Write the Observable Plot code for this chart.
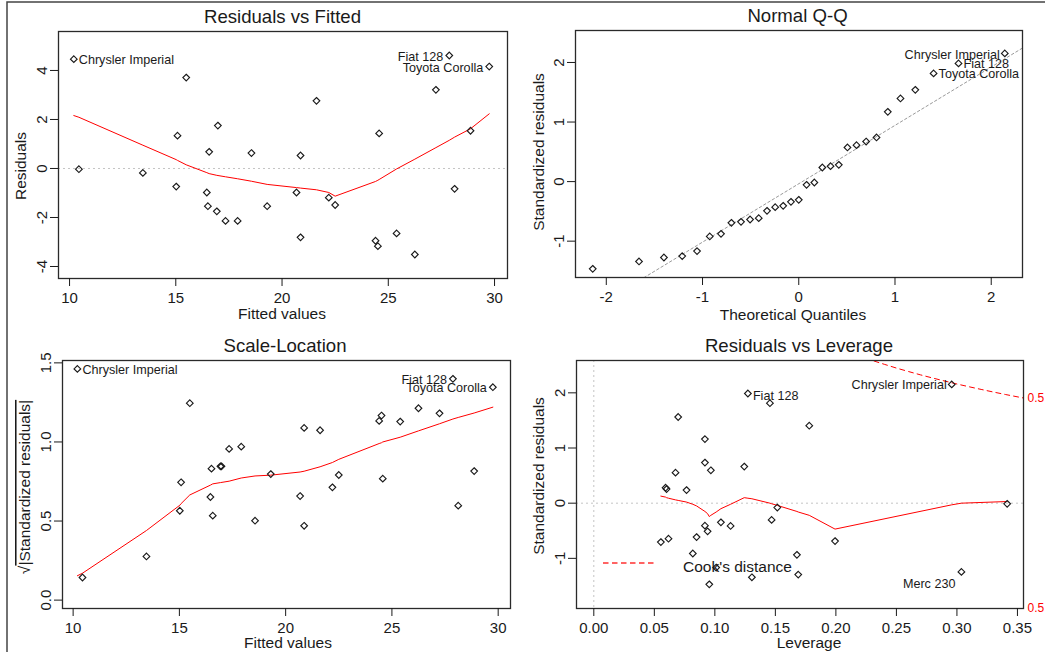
<!DOCTYPE html>
<html><head><meta charset="utf-8">
<script src="https://cdn.jsdelivr.net/npm/d3@7"></script>
<script src="https://cdn.jsdelivr.net/npm/@observablehq/plot@0.6"></script>
<style>
html,body{margin:0;padding:0;background:#fff;}
#wrap{position:relative;width:1045px;height:652px;overflow:hidden;background:#fff;font-family:"Liberation Sans",Arial,sans-serif;}
#wrap > div.p{position:absolute;}
#overlay{position:absolute;left:0;top:0;pointer-events:none;}
</style></head><body><div id="wrap"></div><script>
// ---------- data ----------
// Residuals vs Fitted / Scale-Location (sorted by fitted value)
const fitted = [10.20, 10.44, 13.45, 15.02, 15.08, 15.49, 16.46, 16.51, 16.57, 16.93, 16.98, 17.34, 17.91, 18.56, 19.30, 20.68, 20.87, 20.87, 21.62, 22.20, 22.50, 24.40, 24.51, 24.57, 25.39, 26.25, 27.24, 27.87, 28.12, 28.87, 29.75];
const residuals = [4.46, -0.03, -0.18, -0.74, 1.34, 3.71, -0.98, -1.54, 0.68, -1.75, 1.75, -2.14, -2.14, 0.63, -1.54, -0.98, 0.53, -2.81, 2.76, -1.19, -1.49, -2.95, -3.17, 1.43, -2.65, -3.51, 3.21, 4.61, -0.83, 1.54, 4.16];
const sqrtAbsStdResid = [1.462, 0.143, 0.276, 0.565, 0.745, 1.245, 0.652, 0.831, 0.534, 0.846, 0.846, 0.956, 0.970, 0.502, 0.797, 0.658, 0.470, 1.089, 1.074, 0.713, 0.791, 1.133, 1.167, 0.768, 1.129, 1.213, 1.181, 1.399, 0.597, 0.816, 1.346];
const fittedLabelsRight = [{i: 0, name: "Chrysler Imperial"}];
const fittedLabelsLeft = [{i: 27, name: "Fiat 128"}, {i: 30, name: "Toyota Corolla"}];

const lowessFittedX = [10.20, 10.44, 13.45, 15.02, 15.08, 15.49, 16.46, 16.57, 16.93, 17.34, 17.91, 18.56, 19.30, 20.68, 20.87, 21.62, 22.20, 22.50, 24.40, 24.51, 24.57, 25.39, 26.25, 27.24, 27.87, 28.12, 28.87, 29.75];
const lowessResidY = [2.16, 2.09, 0.95, 0.36, 0.33, 0.15, -0.17, -0.21, -0.28, -0.34, -0.42, -0.52, -0.65, -0.78, -0.80, -0.87, -0.98, -1.13, -0.53, -0.48, -0.45, -0.02, 0.38, 0.85, 1.15, 1.28, 1.62, 2.23];
const lowessScaleY = [0.154, 0.17, 0.44, 0.60, 0.61, 0.665, 0.727, 0.735, 0.743, 0.752, 0.772, 0.785, 0.79, 0.81, 0.815, 0.843, 0.87, 0.89, 0.99, 0.995, 1.0, 1.03, 1.07, 1.115, 1.145, 1.155, 1.183, 1.22];

// Normal Q-Q
const theoreticalQ = [-2.141, -1.660, -1.401, -1.211, -1.057, -0.925, -0.808, -0.700, -0.600, -0.506, -0.416, -0.330, -0.245, -0.162, -0.081, 0, 0.081, 0.162, 0.245, 0.330, 0.416, 0.506, 0.600, 0.700, 0.808, 0.925, 1.057, 1.211, 1.401, 1.660, 2.141];
const qqStdResid = [-1.464, -1.341, -1.274, -1.251, -1.167, -0.921, -0.877, -0.692, -0.675, -0.636, -0.614, -0.491, -0.429, -0.407, -0.340, -0.306, -0.054, -0.015, 0.237, 0.259, 0.282, 0.573, 0.612, 0.673, 0.741, 1.172, 1.396, 1.541, 1.816, 1.984, 2.152];
const qqLabelsLeft = [{i: 30, name: "Chrysler Imperial"}];
const qqLabelsRight = [{i: 29, name: "Fiat 128"}, {i: 28, name: "Toyota Corolla"}];
const qqLineIntercept = -0.036;
const qqLineSlope = 0.98;

// Residuals vs Leverage
const leverage = [0.0554, 0.0593, 0.0601, 0.0617, 0.0675, 0.0697, 0.0766, 0.0818, 0.0849, 0.0918, 0.0918, 0.0918, 0.0940, 0.0954, 0.0967, 0.1011, 0.1050, 0.1130, 0.1243, 0.1273, 0.1306, 0.1455, 0.1469, 0.1516, 0.1678, 0.1689, 0.1780, 0.1993, 0.2957, 0.3037, 0.3415];
const levStdResid = [-0.705, 0.280, 0.255, -0.644, 0.553, 1.562, 0.237, -0.912, -0.614, 1.161, 0.736, -0.407, -0.511, -1.471, 0.596, -1.167, -0.347, -0.413, 0.663, 1.988, -1.343, 1.812, -0.304, -0.079, -0.936, -1.295, 1.404, -0.687, 2.152, -1.246, -0.012];
const levLabelsRight = [{i: 19, name: "Fiat 128"}];
const levLabelsLeft = [{i: 28, name: "Chrysler Imperial"}];
const levLabelsBelow = [{i: 29, name: "Merc 230"}];
const lowessLevX = [0.0554, 0.0593, 0.0601, 0.0617, 0.0675, 0.0697, 0.0766, 0.0818, 0.0849, 0.0918, 0.0940, 0.0954, 0.0967, 0.1011, 0.1050, 0.1130, 0.1243, 0.1273, 0.1306, 0.1455, 0.1469, 0.1516, 0.1678, 0.1689, 0.1780, 0.1993, 0.2957, 0.3037, 0.3415];
const lowessLevY = [0.128, 0.11, 0.10, 0.09, 0.06, 0.05, 0.02, -0.02, -0.05, -0.15, -0.19, -0.243, -0.22, -0.16, -0.10, -0.02, 0.10, 0.09, 0.08, 0.00, -0.01, -0.04, -0.15, -0.16, -0.22, -0.47, -0.03, 0.00, 0.03];
const cookH = [0.2315, 0.24, 0.25, 0.26, 0.27, 0.28, 0.29, 0.30, 0.31, 0.32, 0.33, 0.34, 0.355];
const cookY = [2.577, 2.517, 2.449, 2.386, 2.325, 2.268, 2.213, 2.160, 2.110, 2.062, 2.015, 1.970, 1.906];
const cookLevel = "0.5";

// ---------- helpers ----------
const FONT = '"Liberation Sans", Arial, sans-serif';
const INK = "#1a1a1a";
const minusFmt = d => String(d);
const wrap = document.getElementById("wrap");

function panel({left, top, width, height, m, xDomain, yDomain, xTicks, yTicks, xFormat = minusFmt, yFormat = minusFmt, marks}) {
  const chart = Plot.plot({
    width, height,
    marginTop: m[0], marginRight: m[1], marginBottom: m[2], marginLeft: m[3],
    style: {fontFamily: FONT, fontSize: "15px", color: INK, background: "transparent", overflow: "visible"},
    x: {domain: xDomain, label: null},
    y: {domain: yDomain, label: null},
    marks: [
      ...marks,
      Plot.frame({stroke: "#2a2a2a", strokeWidth: 1.3}),
      Plot.axisX({ticks: xTicks, tickFormat: xFormat, tickSize: 8, tickPadding: 6, label: null}),
      Plot.axisY({ticks: yTicks, tickFormat: yFormat, tickRotate: -90, tickSize: 8, tickPadding: 4, label: null})
    ]
  });
  const d = document.createElement("div");
  d.className = "p";
  d.style.left = left + "px";
  d.style.top = top + "px";
  d.appendChild(chart);
  wrap.appendChild(d);
}

const dotOpts = {symbol: "diamond2", r: 3, stroke: INK, fill: "none", strokeWidth: 1.15};
const lblSize = 12.6;
const zeroRule = {stroke: "#c4c4c4", strokeDasharray: "2,3", strokeWidth: 1};

// ---------- Panel 1: Residuals vs Fitted ----------
const p1 = fitted.map((f, i) => ({x: f, y: residuals[i]}));
const p1low = lowessFittedX.map((x, i) => ({x, y: lowessResidY[i]}));
panel({
  left: 0, top: 0, width: 522, height: 326, m: [31, 15, 48, 58],
  xDomain: [9.48, 30.61], yDomain: [-4.49, 5.59],
  xTicks: [10, 15, 20, 25, 30], yTicks: [-4, -2, 0, 2, 4],
  marks: [
    Plot.ruleY([0], zeroRule),
    Plot.line(p1low, {x: "x", y: "y", stroke: "#ff0000", strokeWidth: 1}),
    Plot.dot(p1, {x: "x", y: "y", ...dotOpts}),
    Plot.text(fittedLabelsRight, {x: d => fitted[d.i], y: d => residuals[d.i], text: "name", textAnchor: "start", dx: 5, dy: 1, fontSize: lblSize, fill: INK}),
    Plot.text(fittedLabelsLeft, {x: d => fitted[d.i], y: d => residuals[d.i], text: "name", textAnchor: "end", dx: -6, dy: 1, fontSize: lblSize, fill: INK})
  ]
});

// ---------- Panel 2: Normal Q-Q ----------
const p2 = theoreticalQ.map((q, i) => ({x: q, y: qqStdResid[i]}));
const qqDom = [-2.32, 2.325];
const qqLine = qqDom.map(x => ({x, y: qqLineIntercept + qqLineSlope * x}));
panel({
  left: 522, top: 0, width: 523, height: 326, m: [30, 23, 49, 53],
  xDomain: qqDom, yDomain: [-1.61, 2.537],
  xTicks: [-2, -1, 0, 1, 2], yTicks: [-1, 0, 1, 2],
  marks: [
    Plot.line(qqLine, {x: "x", y: "y", stroke: "#9a9a9a", strokeDasharray: "2.5,2.5", strokeWidth: 1, clip: true}),
    Plot.dot(p2, {x: "x", y: "y", ...dotOpts}),
    Plot.text(qqLabelsLeft, {x: d => theoreticalQ[d.i], y: d => qqStdResid[d.i], text: "name", textAnchor: "end", dx: -5, dy: 2, fontSize: lblSize, fill: INK}),
    Plot.text(qqLabelsRight, {x: d => theoreticalQ[d.i], y: d => qqStdResid[d.i], text: "name", textAnchor: "start", dx: 5, dy: 1, fontSize: lblSize, fill: INK})
  ]
});

// ---------- Panel 3: Scale-Location ----------
const p3 = fitted.map((f, i) => ({x: f, y: sqrtAbsStdResid[i]}));
const p3low = lowessFittedX.map((x, i) => ({x, y: lowessScaleY[i]}));
panel({
  left: 0, top: 326, width: 522, height: 326, m: [34, 12, 44, 62],
  xDomain: [9.50, 30.58], yDomain: [-0.053, 1.515],
  xTicks: [10, 15, 20, 25, 30], yTicks: [0, 0.5, 1, 1.5], yFormat: d3.format(".1f"),
  marks: [
    Plot.line(p3low, {x: "x", y: "y", stroke: "#ff0000", strokeWidth: 1}),
    Plot.dot(p3, {x: "x", y: "y", ...dotOpts}),
    Plot.text(fittedLabelsRight, {x: d => fitted[d.i], y: d => sqrtAbsStdResid[d.i], text: "name", textAnchor: "start", dx: 5, dy: 1, fontSize: lblSize, fill: INK}),
    Plot.text(fittedLabelsLeft, {x: d => fitted[d.i], y: d => sqrtAbsStdResid[d.i], text: "name", textAnchor: "end", dx: -6, dy: 1, fontSize: lblSize, fill: INK})
  ]
});

// ---------- Panel 4: Residuals vs Leverage ----------
const p4 = leverage.map((h, i) => ({x: h, y: levStdResid[i]}));
const p4low = lowessLevX.map((x, i) => ({x, y: lowessLevY[i]}));
const cook = cookH.map((h, i) => ({x: h, y: cookY[i]}));
const cookEnd = cook[cook.length - 1];
const cookLabels = [{x: cookEnd.x, y: cookEnd.y}, {x: cookEnd.x, y: -cookEnd.y}];
panel({
  left: 522, top: 326, width: 523, height: 326, m: [34, 22, 44, 54],
  xDomain: [-0.0143, 0.355], yDomain: [-1.909, 2.586],
  xTicks: [0, 0.05, 0.1, 0.15, 0.2, 0.25, 0.3, 0.35], yTicks: [-1, 0, 1, 2], xFormat: d3.format(".2f"),
  marks: [
    Plot.ruleY([0], zeroRule),
    Plot.ruleX([0], zeroRule),
    Plot.line(cook, {x: "x", y: "y", stroke: "#ff0000", strokeDasharray: "5,4", strokeWidth: 1, clip: true}),
    Plot.line(p4low, {x: "x", y: "y", stroke: "#ff0000", strokeWidth: 1}),
    Plot.dot(p4, {x: "x", y: "y", ...dotOpts}),
    Plot.text(levLabelsRight, {x: d => leverage[d.i], y: d => levStdResid[d.i], text: "name", textAnchor: "start", dx: 5, dy: 2, fontSize: lblSize, fill: INK}),
    Plot.text(levLabelsLeft, {x: d => leverage[d.i], y: d => levStdResid[d.i], text: "name", textAnchor: "end", dx: -5, dy: 1, fontSize: lblSize, fill: INK}),
    Plot.text(levLabelsBelow, {x: d => leverage[d.i], y: d => levStdResid[d.i], text: "name", textAnchor: "end", dx: -6, dy: 12, fontSize: lblSize, fill: INK}),
    Plot.text(cookLabels, {x: "x", y: "y", text: () => cookLevel, textAnchor: "start", dx: 4, fontSize: 12, fill: "#ff0000"})
  ]
});

// ---------- titles, axis labels, legend, outer border ----------
const ov = d3.select(wrap).append("svg").attr("id", "overlay").attr("width", 1045).attr("height", 652)
  .style("font-family", FONT);
ov.append("path").attr("d", "M7,652V2H1045").attr("fill", "none").attr("stroke", "#444").attr("stroke-width", 1.5);
const titles = [
  {t: "Residuals vs Fitted", x: 282.5, y: 23},
  {t: "Normal Q-Q", x: 797.5, y: 22},
  {t: "Scale-Location", x: 285, y: 352},
  {t: "Residuals vs Leverage", x: 799, y: 352}
];
titles.forEach(d => ov.append("text").attr("x", d.x).attr("y", d.y).attr("text-anchor", "middle")
  .attr("font-size", 18.6).attr("fill", INK).text(d.t));
const xlabs = [
  {t: "Fitted values", x: 282, y: 319},
  {t: "Theoretical Quantiles", x: 793, y: 320},
  {t: "Fitted values", x: 288, y: 648},
  {t: "Leverage", x: 809, y: 648}
];
xlabs.forEach(d => ov.append("text").attr("x", d.x).attr("y", d.y).attr("text-anchor", "middle")
  .attr("font-size", 15.5).attr("fill", INK).text(d.t));
const ylabs = [
  {t: "Residuals", x: 26, y: 166},
  {t: "Standardized residuals", x: 544, y: 152},
  {t: "Standardized residuals", x: 544, y: 476}
];
ylabs.forEach(d => ov.append("text").attr("transform", `translate(${d.x},${d.y}) rotate(-90)`).attr("text-anchor", "middle")
  .attr("font-size", 15.5).attr("fill", INK).text(d.t));
const sl = ov.append("text").attr("transform", "translate(30,487) rotate(-90)").attr("text-anchor", "middle")
  .attr("font-size", 15.5).attr("fill", INK);
sl.append("tspan").text("\u221A");
sl.append("tspan").style("text-decoration", "overline").text("|Standardized residuals|");
// Cook's distance legend
ov.append("line").attr("x1", 603).attr("x2", 657).attr("y1", 563).attr("y2", 563)
  .style("stroke", "#ff3030").style("stroke-width", "1.6px").style("stroke-dasharray", "5.5,3.5");
ov.append("text").attr("x", 683).attr("y", 571.5).attr("font-size", 15.5).attr("fill", INK).text("Cook's distance");
</script></body></html>
